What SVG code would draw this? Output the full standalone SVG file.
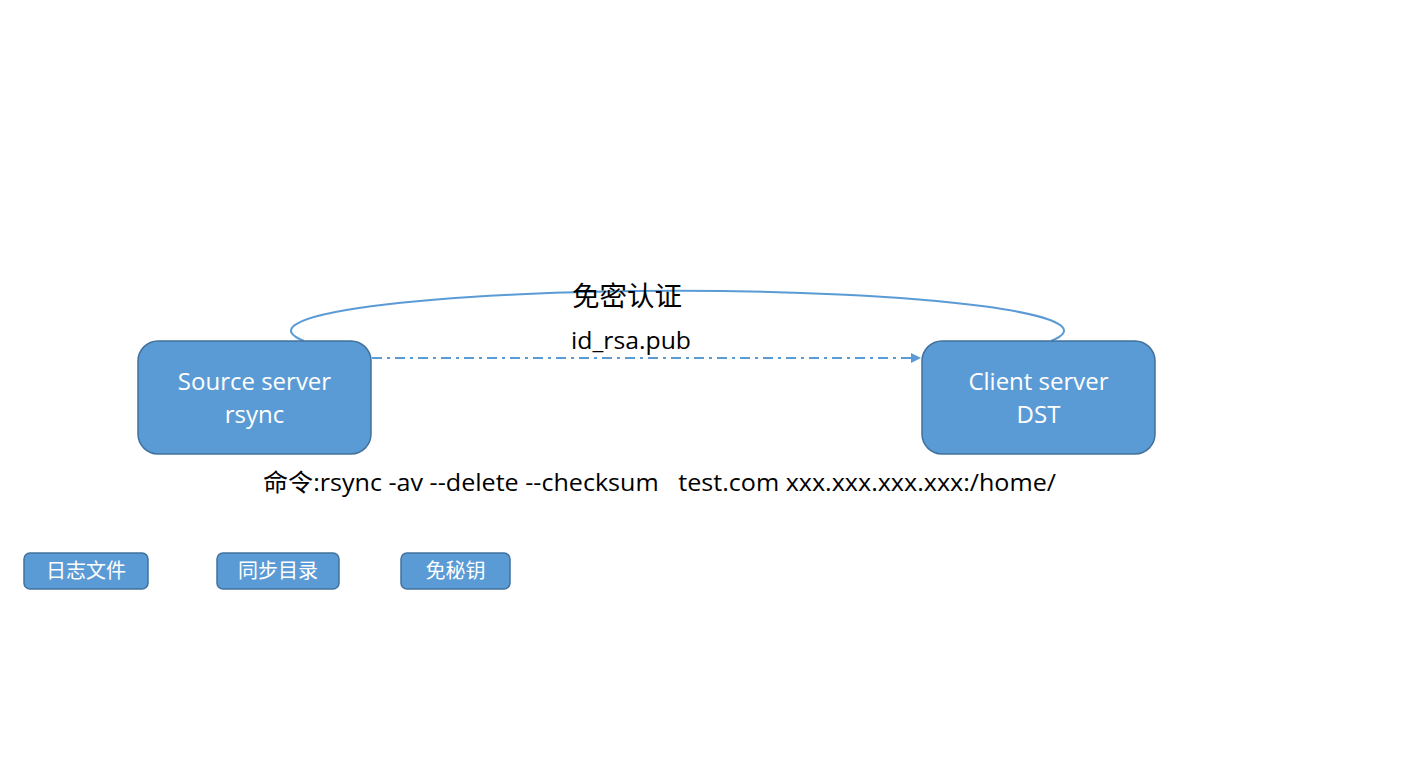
<svg xmlns="http://www.w3.org/2000/svg" width="1428" height="774" viewBox="0 0 1428 774">
<style>
.node{fill:#5B9BD5;stroke:#41719C;stroke-width:1.5}
.wt{fill:#fff;font-family:"Open Sans","Noto Sans CJK SC",sans-serif;text-anchor:middle}
.big{font-size:24px}
.small{font-size:20px;font-family:"Noto Sans CJK SC",sans-serif}
.lbl{fill:#000;font-family:"Open Sans","Noto Sans CJK SC",sans-serif;font-size:24px}
.conn{fill:none;stroke:#5B9BD5;stroke-width:2}
</style>
<defs>
<marker id="arr" viewBox="0 0 10 10" refX="10" refY="5" markerWidth="5" markerHeight="5" orient="auto" markerUnits="strokeWidth">
<path d="M0,0 L10,5 L0,10 z" fill="#5B9BD5"/>
</marker>
</defs>
<rect width="1428" height="774" fill="#fff"/>
<g id="connectors">
<path class="conn" d="M 304 341 A 386.5 40 0 1 1 1051 341"/>
<line class="conn" x1="372" y1="358" x2="921" y2="358" stroke-dasharray="10,5,3,5" marker-end="url(#arr)"/>
</g>
<g id="source">
<rect class="node" x="138" y="341" width="233" height="113" rx="20"/>
<text class="wt big" x="254.5" y="390">Source server</text>
<text class="wt big" x="254.5" y="423">rsync</text>
</g>
<g id="client">
<rect class="node" x="922" y="341" width="233" height="113" rx="20"/>
<text class="wt big" x="1038.5" y="390">Client server</text>
<text class="wt big" x="1038.5" y="423">DST</text>
</g>
<g id="labels">
<text class="lbl" x="572" y="306" style="font-family:'Noto Sans CJK SC',sans-serif;font-size:27.5px">免密认证</text>
<text class="lbl" x="571" y="349" textLength="120" lengthAdjust="spacingAndGlyphs">id_rsa.pub</text>
<text class="lbl" x="263" y="491" xml:space="preserve" textLength="793" lengthAdjust="spacingAndGlyphs">命令:rsync -av --delete --checksum   test.com xxx.xxx.xxx.xxx:/home/</text>
</g>
<g id="log">
<rect class="node" x="24" y="553" width="124" height="36" rx="6"/>
<text class="wt small" x="86" y="578">日志文件</text>
</g>
<g id="syncdir">
<rect class="node" x="217" y="553" width="122" height="36" rx="6"/>
<text class="wt small" x="278" y="578">同步目录</text>
</g>
<g id="key">
<rect class="node" x="401" y="553" width="109" height="36" rx="6"/>
<text class="wt small" x="455.5" y="578">免秘钥</text>
</g>
</svg>
